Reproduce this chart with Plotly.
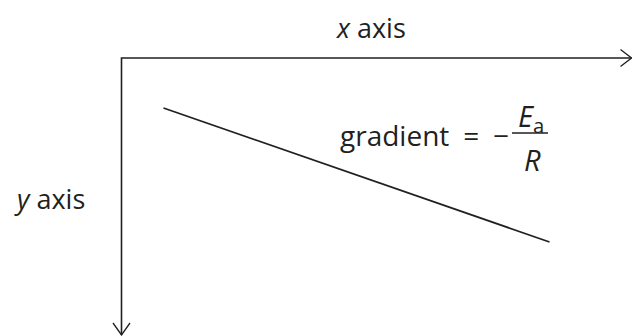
import plotly.graph_objects as go

## schematic data (axis units, origin at the corner of the axes, y grows downwards)
x_axis_len = 510
y_axis_len = 277
line_x = [42, 428]
line_y = [50, 184]

x_label = '<i>x</i> axis'
y_label = '<i>y</i> axis'
grad_text = 'gradient\u2002=\u2002\u2212'
frac_top = '<i>E</i><sub>a</sub>'
frac_bottom = '<i>R</i>'

ink = '#231f20'
font_family = 'Open Sans'

fig = go.Figure()

## axes with open chevron heads
fig.add_trace(go.Scatter(
    x=[x_axis_len, 0, 0], y=[0, 0, y_axis_len],
    mode='lines', line=dict(color=ink, width=1.6), hoverinfo='skip'))
fig.add_trace(go.Scatter(
    x=[x_axis_len - 11, x_axis_len, x_axis_len - 11], y=[-8.5, 0, 8.5],
    mode='lines', line=dict(color=ink, width=1.3), hoverinfo='skip'))
fig.add_trace(go.Scatter(
    x=[-8.5, 0, 8.5], y=[y_axis_len - 12, y_axis_len, y_axis_len - 12],
    mode='lines', line=dict(color=ink, width=1.3), hoverinfo='skip'))

## the straight line
fig.add_trace(go.Scatter(
    x=line_x, y=line_y, mode='lines',
    line=dict(color=ink, width=1.8), hoverinfo='skip'))

## fraction bar
fig.add_trace(go.Scatter(
    x=[390.5, 426.5], y=[75, 75], mode='lines',
    line=dict(color=ink, width=1.6), hoverinfo='skip'))

annos = [
    dict(x=249.5, y=-31, text=x_label, xanchor='center', yanchor='middle', size=27),
    dict(x=-72.5, y=140, text=y_label, xanchor='center', yanchor='middle', size=27),
    dict(x=389, y=77, text=grad_text, xanchor='right', yanchor='middle', size=28),
    dict(x=409, y=59, text=frac_top, xanchor='center', yanchor='middle', size=29),
    dict(x=411, y=101, text=frac_bottom, xanchor='center', yanchor='middle', size=29),
]
for a in annos:
    fig.add_annotation(
        x=a['x'], y=a['y'], text=a['text'], showarrow=False,
        xanchor=a['xanchor'], yanchor=a['yanchor'],
        font=dict(family=font_family, size=a['size'], color=ink))

fig.update_layout(
    width=632, height=336,
    margin=dict(l=0, r=0, t=0, b=0),
    paper_bgcolor='white', plot_bgcolor='white',
    showlegend=False,
    xaxis=dict(range=[-121.5, 510.5], visible=False, fixedrange=True),
    yaxis=dict(range=[278, -58], visible=False, fixedrange=True),
)

fig.write_html('out.html', config=dict(displayModeBar=False),
               post_script="document.body.style.margin='0';")
